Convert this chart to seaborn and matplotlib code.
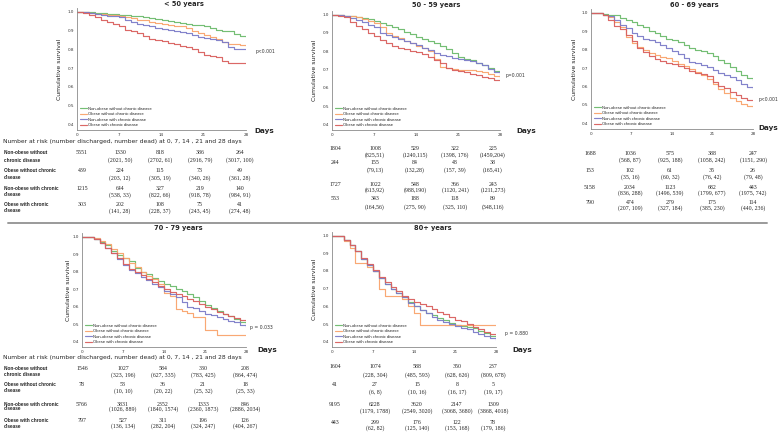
import numpy as np
import pandas as pd
import matplotlib
matplotlib.use("Agg")
import matplotlib.pyplot as plt
from matplotlib.lines import Line2D
import seaborn as sns

sns.set_style("white")
plt.rcParams['font.family'] = ['DejaVu Sans']

W, H = 778, 432

# groups and colours
groups = ['Non-obese without chronic disease', 'Obese without chronic disease',
          'Non-obese with chronic disease', 'Obese with chronic disease']
palette = dict(zip(groups, ['#6dbb6d', '#f9a46c', '#7c7cc9', '#d9605e']))

days = list(range(29))

# survival, one value per day (0..28)
lt50_green = [1.0, 1.0, 0.998, 0.995, 0.993, 0.99, 0.988, 0.985, 0.982, 0.978, 0.975, 0.97, 0.966, 0.962, 0.958,
              0.952, 0.945, 0.94, 0.935, 0.93, 0.93, 0.925, 0.912, 0.905, 0.9, 0.895, 0.88, 0.869, 0.863]
lt50_orange = [1.0, 1.0, 0.995, 0.99, 0.988, 0.985, 0.982, 0.978, 0.972, 0.965, 0.958, 0.955, 0.948, 0.942, 0.935,
               0.93, 0.926, 0.922, 0.912, 0.895, 0.885, 0.878, 0.868, 0.855, 0.84, 0.83, 0.826, 0.822, 0.82]
lt50_blue = [1.0, 0.998, 0.995, 0.99, 0.985, 0.98, 0.975, 0.97, 0.955, 0.945, 0.935, 0.93, 0.922, 0.915, 0.91,
             0.905, 0.898, 0.892, 0.886, 0.878, 0.866, 0.862, 0.857, 0.85, 0.84, 0.81, 0.80, 0.80, 0.80]
lt50_red = [1.0, 0.995, 0.985, 0.97, 0.958, 0.948, 0.935, 0.925, 0.905, 0.895, 0.887, 0.87, 0.855, 0.848, 0.842,
            0.835, 0.828, 0.82, 0.81, 0.80, 0.785, 0.772, 0.765, 0.758, 0.735, 0.728, 0.726, 0.725, 0.725]

s50_green = [1.0, 0.998, 0.995, 0.99, 0.985, 0.98, 0.975, 0.965, 0.955, 0.945, 0.935, 0.92, 0.905, 0.895, 0.88,
             0.865, 0.855, 0.845, 0.83, 0.81, 0.79, 0.77, 0.76, 0.75, 0.735, 0.725, 0.71, 0.695, 0.685]
s50_orange = [1.0, 0.998, 0.995, 0.99, 0.985, 0.975, 0.965, 0.955, 0.935, 0.9, 0.885, 0.87, 0.855, 0.845, 0.83,
              0.82, 0.80, 0.76, 0.716, 0.71, 0.705, 0.70, 0.70, 0.70, 0.69, 0.685, 0.675, 0.665, 0.655]
s50_blue = [1.0, 0.998, 0.99, 0.98, 0.97, 0.96, 0.945, 0.93, 0.90, 0.89, 0.88, 0.865, 0.855, 0.845, 0.835,
            0.82, 0.805, 0.79, 0.78, 0.775, 0.765, 0.76, 0.755, 0.745, 0.735, 0.725, 0.705, 0.685, 0.67]
s50_red = [1.0, 0.995, 0.985, 0.96, 0.94, 0.92, 0.90, 0.885, 0.862, 0.845, 0.83, 0.82, 0.81, 0.80, 0.795,
           0.785, 0.77, 0.752, 0.735, 0.71, 0.70, 0.69, 0.685, 0.675, 0.67, 0.66, 0.652, 0.645, 0.642]

s60_green = [1.0, 0.998, 0.995, 0.99, 0.985, 0.97, 0.96, 0.95, 0.935, 0.92, 0.90, 0.89, 0.875, 0.86, 0.85,
             0.84, 0.825, 0.81, 0.80, 0.79, 0.78, 0.765, 0.745, 0.725, 0.705, 0.685, 0.665, 0.645, 0.633]
s60_orange = [1.0, 0.998, 0.99, 0.975, 0.95, 0.925, 0.87, 0.835, 0.815, 0.80, 0.78, 0.77, 0.76, 0.755, 0.74,
              0.72, 0.71, 0.695, 0.68, 0.66, 0.64, 0.615, 0.585, 0.565, 0.54, 0.52, 0.505, 0.495, 0.49]
s60_blue = [1.0, 0.998, 0.99, 0.98, 0.96, 0.935, 0.915, 0.89, 0.875, 0.86, 0.85, 0.84, 0.825, 0.81, 0.795,
            0.775, 0.755, 0.735, 0.725, 0.715, 0.705, 0.69, 0.675, 0.665, 0.65, 0.635, 0.615, 0.595, 0.585]
s60_red = [1.0, 0.998, 0.985, 0.96, 0.93, 0.91, 0.88, 0.845, 0.81, 0.785, 0.765, 0.75, 0.74, 0.727, 0.72,
           0.71, 0.70, 0.685, 0.675, 0.668, 0.655, 0.625, 0.605, 0.59, 0.57, 0.555, 0.54, 0.528, 0.525]

s70_green = [1.0, 0.995, 0.985, 0.97, 0.95, 0.92, 0.895, 0.88, 0.86, 0.82, 0.80, 0.785, 0.765, 0.745, 0.73,
             0.715, 0.70, 0.69, 0.675, 0.655, 0.63, 0.61, 0.595, 0.575, 0.56, 0.545, 0.53, 0.51, 0.50]
s70_orange = [1.0, 0.998, 0.99, 0.975, 0.955, 0.93, 0.905, 0.88, 0.85, 0.825, 0.80, 0.775, 0.755, 0.73, 0.68,
              0.66, 0.585, 0.575, 0.565, 0.54, 0.54, 0.465, 0.465, 0.44, 0.44, 0.44, 0.44, 0.44, 0.44]
s70_blue = [1.0, 0.995, 0.985, 0.965, 0.935, 0.905, 0.87, 0.835, 0.81, 0.79, 0.77, 0.75, 0.73, 0.71, 0.69,
            0.67, 0.655, 0.625, 0.60, 0.59, 0.575, 0.56, 0.55, 0.54, 0.53, 0.52, 0.51, 0.495, 0.485]
s70_red = [1.0, 0.995, 0.985, 0.965, 0.935, 0.905, 0.875, 0.845, 0.815, 0.795, 0.78, 0.76, 0.74, 0.72, 0.70,
           0.685, 0.67, 0.66, 0.645, 0.63, 0.615, 0.60, 0.585, 0.57, 0.56, 0.545, 0.535, 0.525, 0.518]

s80_green = [1.0, 0.995, 0.975, 0.945, 0.91, 0.87, 0.835, 0.80, 0.76, 0.725, 0.70, 0.675, 0.65, 0.625, 0.60,
             0.58, 0.565, 0.55, 0.535, 0.52, 0.505, 0.495, 0.49, 0.485, 0.475, 0.46, 0.45, 0.435, 0.425]
s80_orange = [1.0, 1.0, 0.97, 0.93, 0.845, 0.845, 0.82, 0.80, 0.70, 0.66, 0.66, 0.66, 0.64, 0.60, 0.565,
              0.495, 0.495, 0.495, 0.495, 0.495, 0.495, 0.495, 0.495, 0.495, 0.495, 0.495, 0.495, 0.495, 0.495]
s80_blue = [1.0, 0.995, 0.975, 0.945, 0.91, 0.87, 0.835, 0.80, 0.76, 0.725, 0.70, 0.675, 0.65, 0.62, 0.60,
            0.58, 0.56, 0.54, 0.525, 0.51, 0.50, 0.49, 0.48, 0.47, 0.455, 0.445, 0.43, 0.42, 0.41]
s80_red = [1.0, 0.995, 0.975, 0.945, 0.91, 0.875, 0.84, 0.805, 0.765, 0.735, 0.71, 0.685, 0.66, 0.64, 0.625,
           0.615, 0.60, 0.585, 0.57, 0.555, 0.54, 0.525, 0.515, 0.50, 0.485, 0.47, 0.455, 0.445, 0.44]

# number at risk tables: count at 0, 7, 14, 21, 28 days, then (discharged, dead)
risk_lt50 = [['5551', '1330', '818', '386', '264'], ['439', '224', '115', '73', '49'],
             ['1215', '644', '327', '219', '140'], ['303', '202', '108', '75', '41']]
paren_lt50 = [['(2021, 50)', '(2702, 61)', '(2916, 79)', '(3017, 100)'],
              ['(203, 12)', '(305, 19)', '(340, 26)', '(361, 28)'],
              ['(538, 33)', '(822, 66)', '(918, 78)', '(984, 91)'],
              ['(141, 28)', '(228, 37)', '(243, 45)', '(274, 48)']]
risk_50 = [['1804', '1008', '529', '322', '225'], ['244', '155', '84', '48', '38'],
           ['1727', '1022', '548', '366', '243'], ['553', '343', '188', '118', '89']]
paren_50 = [['(825,51)', '(1240,115)', '(1398, 176)', '(1459,204)'],
            ['(79,13)', '(132,28)', '(157, 39)', '(165,41)'],
            ['(613,92)', '(988,190)', '(1120, 241)', '(1211,273)'],
            ['(164,56)', '(275, 90)', '(325, 110)', '(348,116)']]
risk_60 = [['1688', '1036', '575', '388', '247'], ['153', '102', '61', '35', '26'],
           ['5158', '2034', '1123', '682', '443'], ['790', '474', '279', '175', '114']]
paren_60 = [['(568, 87)', '(925, 188)', '(1058, 242)', '(1151, 290)'],
            ['(35, 16)', '(60, 32)', '(76, 42)', '(79, 48)'],
            ['(836, 288)', '(1496, 539)', '(1799, 677)', '(1975, 742)'],
            ['(207, 109)', '(327, 184)', '(385, 230)', '(440, 236)']]
risk_70 = [['1546', '1027', '584', '330', '208'], ['78', '53', '36', '21', '18'],
           ['5766', '3831', '2352', '1333', '846'], ['797', '527', '311', '196', '126']]
paren_70 = [['(323, 196)', '(627, 335)', '(783, 425)', '(864, 474)'],
            ['(10, 10)', '(20, 22)', '(25, 32)', '(25, 33)'],
            ['(1026, 889)', '(1840, 1574)', '(2360, 1873)', '(2886, 2034)'],
            ['(136, 134)', '(282, 204)', '(324, 247)', '(404, 267)']]
risk_80 = [['1604', '1074', '588', '350', '237'], ['41', '27', '15', '8', '5'],
           ['9195', '6228', '3620', '2147', '1309'], ['443', '299', '176', '122', '78']]
paren_80 = [['(228, 304)', '(485, 593)', '(628, 626)', '(809, 678)'],
            ['(6, 8)', '(10, 16)', '(16, 17)', '(19, 17)'],
            ['(1179, 1788)', '(2549, 3020)', '(3068, 3680)', '(3868, 4018)'],
            ['(62, 82)', '(125, 140)', '(153, 168)', '(179, 186)']]

row_labels = ['Non-obese without\nchronic disease', 'Obese without chronic\ndisease',
              'Non-obese with chronic\ndisease', 'Obese with chronic\ndisease']
risk_caption = 'Number at risk (number discharged, number dead) at 0, 7, 14 , 21 and 28 days'

fig = plt.figure(figsize=(W / 100, H / 100), dpi=100)


def ftext(x, y, s, **kw):
    fig.text(x / W, 1 - y / H, s, **kw)


def km_panel(box, curves, title, title_xy, pval, p_xy, days_xy, ylab_x):
    left, top, right, bottom = box
    ax = fig.add_axes([left / W, 1 - bottom / H, (right - left) / W, (bottom - top) / H])
    df = pd.concat([pd.DataFrame({'day': days, 'survival': v, 'group': g}) for g, v in zip(groups, curves)])
    sns.lineplot(data=df, x='day', y='survival', hue='group', hue_order=groups, palette=palette,
                 drawstyle='steps-post', estimator=None, linewidth=0.85, alpha=0.95, ax=ax)
    ax.set_xlim(0, 28)
    ax.set_ylim(0.37, 1.02)
    ax.set_xticks([0, 7, 14, 21, 28])
    ax.set_yticks([0.4, 0.5, 0.6, 0.7, 0.8, 0.9, 1.0])
    ax.set_yticklabels(['0.4', '0.5', '0.6', '0.7', '0.8', '0.9', '1.0'])
    ax.tick_params(length=0, labelsize=3.0, colors='#333333', pad=2)
    for sp in ['top', 'right']:
        ax.spines[sp].set_visible(False)
    for sp in ['left', 'bottom']:
        ax.spines[sp].set_color('#8a8a8a')
        ax.spines[sp].set_linewidth(0.6)
    ax.set_xlabel('')
    ax.set_ylabel('Cumulative survival', fontsize=4.4, color='#222222')
    ax.yaxis.set_label_coords((ylab_x - left) / (right - left), 0.5)
    handles, labels = ax.get_legend_handles_labels()
    ax.legend(handles, labels, loc='lower left', bbox_to_anchor=(0.0, 0.0), frameon=False,
              prop={'family': 'Liberation Sans', 'size': 3.0}, handlelength=1.6, labelspacing=0.35,
              borderaxespad=0.3, handletextpad=0.4)
    ftext(title_xy[0], title_xy[1], title, fontsize=4.8, fontweight='bold', ha='center', va='center')
    ftext(p_xy[0], p_xy[1], pval, fontsize=3.3, ha='left', va='center', color='#333333')
    ftext(days_xy[0], days_xy[1], 'Days', fontsize=5.2, fontweight='bold', ha='left', va='center')
    return ax


def risk_table(cols, rows_y, counts, parens, labels=True):
    for i in range(4):
        y1, y2 = rows_y[i]
        if labels:
            first, second = row_labels[i].split('\n')
            ftext(4, y1, first, fontsize=3.4, fontweight='bold', family='Liberation Sans', va='center')
            ftext(4, y2, second, fontsize=3.4, fontweight='bold', family='Liberation Sans', va='center')
        for j in range(5):
            ftext(cols[j], y1, counts[i][j], fontsize=4.2, family='Liberation Serif', ha='center', va='center')
            if j > 0:
                ftext(cols[j], y2, parens[i][j - 1], fontsize=4.2, family='Liberation Serif',
                      ha='center', va='center')


# top row
km_panel((77, 8, 246, 130), [lt50_green, lt50_orange, lt50_blue, lt50_red], '< 50 years', (184, 4),
         'p<0.001', (256, 51), (254, 131), 62)
km_panel((332, 11, 500, 130), [s50_green, s50_orange, s50_blue, s50_red], '50 - 59 years', (436, 5),
         'p=0.001', (506, 75), (516, 131), 317)
km_panel((591, 9, 753, 129), [s60_green, s60_orange, s60_blue, s60_red], '60 - 69 years', (694, 5),
         'p<0.001', (759, 100), (758, 128), 577)

ftext(3, 142, risk_caption, fontsize=4.3, va='center')
risk_table([82, 120, 160, 200, 240], [(152, 160), (171, 178), (189, 195), (204, 211)], risk_lt50, paren_lt50)
risk_table([335, 375, 415, 455, 493], [(148, 155), (163, 170), (184, 190), (199, 207)], risk_50, paren_50,
           labels=False)
risk_table([590, 630, 670, 712, 753], [(153, 160), (170, 177), (188, 193), (203, 208)], risk_60, paren_60,
           labels=False)

fig.add_artist(Line2D([8 / W, 767 / W], [1 - 223 / H, 1 - 223 / H], color='#9a9a9a', lw=1.4))

# bottom row
km_panel((82, 233, 246, 347), [s70_green, s70_orange, s70_blue, s70_red], '70 - 79 years', (178, 228),
         'p = 0.033', (250, 328), (257, 350), 71)
km_panel((332, 232, 496, 347), [s80_green, s80_orange, s80_blue, s80_red], '80+ years', (433, 228),
         'p = 0.880', (505, 334), (512, 350), 317)

ftext(3, 358, risk_caption, fontsize=4.3, va='center')
risk_table([82, 123, 163, 203, 245], [(368, 375), (385, 391), (404, 409), (421, 426)], risk_70, paren_70)
risk_table([335, 375, 417, 457, 493], [(367, 375), (385, 392), (404, 411), (422, 428)], risk_80, paren_80,
           labels=False)

fig.savefig('out.png', dpi=100)
